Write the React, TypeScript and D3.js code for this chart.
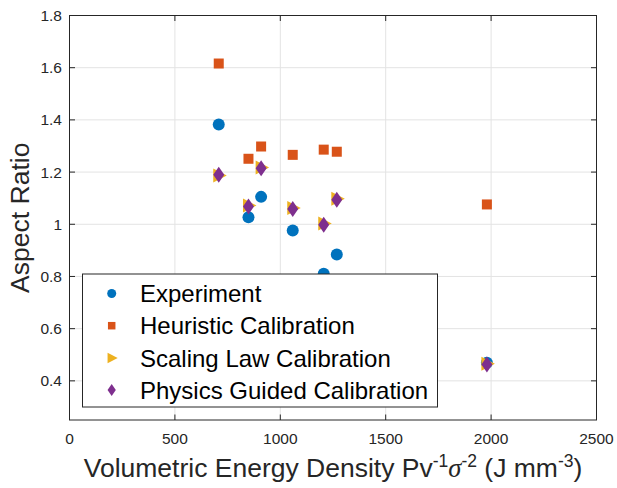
import * as d3 from "d3";

// energy density of each build (J mm^-3)
const energyDensity = [708, 849, 909, 1059, 1206, 1268, 1980];
const experiment = [1.382, 1.027, 1.105, 0.976, 0.81, 0.884, 0.469];
const heuristic = [1.616, 1.251, 1.298, 1.266, 1.286, 1.278, 1.076];
const scalingLaw = [1.187, 1.072, 1.218, 1.062, 1.003, 1.098, 0.466];
const physicsGuided = [1.19, 1.068, 1.215, 1.059, 0.998, 1.094, 0.463];

const xTicks = [0, 500, 1000, 1500, 2000, 2500];
const yTicks = [0.4, 0.6, 0.8, 1, 1.2, 1.4, 1.6, 1.8];

const W = 617;
const H = 488;
const margin = { left: 69.5, right: 20.5, top: 15.5, bottom: 68 };

const x = d3.scaleLinear().domain([0, 2500]).range([margin.left, W - margin.right]);
const y = d3.scaleLinear().domain([0.25, 1.8]).range([H - margin.bottom, margin.top]);

const axisColor = "#262626";
const font = "'Liberation Sans', Arial, Helvetica, sans-serif";

type Kind = "circle" | "square" | "triangle" | "diamond";

const series: { name: string; values: number[]; kind: Kind; color: string }[] = [
  { name: "Experiment", values: experiment, kind: "circle", color: "#0072BD" },
  { name: "Heuristic Calibration", values: heuristic, kind: "square", color: "#D95319" },
  { name: "Scaling Law Calibration", values: scalingLaw, kind: "triangle", color: "#EDB120" },
  { name: "Physics Guided Calibration", values: physicsGuided, kind: "diamond", color: "#7E2F8E" },
];

function Marker({ kind, cx, cy, color, s = 1 }: { kind: Kind; cx: number; cy: number; color: string; s?: number }) {
  if (kind === "circle") return <circle cx={cx} cy={cy} r={6 * s} fill={color} />;
  if (kind === "square")
    return <rect x={cx - 5 * s} y={cy - 5 * s} width={10 * s} height={10 * s} fill={color} />;
  if (kind === "triangle") {
    const p = d3.path();
    p.moveTo(cx - 5.5 * s, cy - 7 * s);
    p.lineTo(cx + 8 * s, cy);
    p.lineTo(cx - 5.5 * s, cy + 7 * s);
    p.closePath();
    return <path d={p.toString()} fill={color} />;
  }
  const p = d3.path();
  p.moveTo(cx, cy - 8 * s);
  p.lineTo(cx + 5.5 * s, cy);
  p.lineTo(cx, cy + 8 * s);
  p.lineTo(cx - 5.5 * s, cy);
  p.closePath();
  return <path d={p.toString()} fill={color} />;
}

export default function App() {
  const [x0, x1] = x.range();
  const [y0, y1] = y.range();
  const tick = 5.5;

  // legend box
  const lg = { x: 82.5, y: 274, w: 355, h: 133 };
  const rowH = 32.2;

  return (
    <svg
      width={W}
      height={H}
      viewBox={`0 0 ${W} ${H}`}
      style={{ position: "absolute", left: 0, top: 0, background: "#fff" }}
      fontFamily={font}
    >
      <rect x={0} y={0} width={W} height={H} fill="#fff" />

      {/* grid */}
      {xTicks.map((t) => (
        <line key={"gx" + t} x1={x(t)} x2={x(t)} y1={y0} y2={y1} stroke="#e3e3e3" strokeWidth={1} />
      ))}
      {yTicks.map((t) => (
        <line key={"gy" + t} x1={x0} x2={x1} y1={y(t)} y2={y(t)} stroke="#e3e3e3" strokeWidth={1} />
      ))}

      {/* points */}
      {series.map((se) =>
        se.values.map((v, i) => (
          <Marker key={se.name + i} kind={se.kind} cx={x(energyDensity[i])} cy={y(v)} color={se.color} />
        ))
      )}

      {/* box and ticks */}
      <rect x={x0} y={y1} width={x1 - x0} height={y0 - y1} fill="none" stroke={axisColor} strokeWidth={1} />
      {xTicks.map((t) => (
        <g key={"tx" + t}>
          <line x1={x(t)} x2={x(t)} y1={y0} y2={y0 - tick} stroke={axisColor} />
          <line x1={x(t)} x2={x(t)} y1={y1} y2={y1 + tick} stroke={axisColor} />
          <text x={x(t)} y={444} textAnchor="middle" fontSize={15.5} fill={axisColor}>
            {t}
          </text>
        </g>
      ))}
      {yTicks.map((t) => (
        <g key={"ty" + t}>
          <line x1={x0} x2={x0 + tick} y1={y(t)} y2={y(t)} stroke={axisColor} />
          <line x1={x1} x2={x1 - tick} y1={y(t)} y2={y(t)} stroke={axisColor} />
          <text x={62} y={y(t)} dy="0.35em" textAnchor="end" fontSize={15.5} fill={axisColor}>
            {String(t)}
          </text>
        </g>
      ))}

      {/* axis labels */}
      <text
        transform={`translate(28.5, ${(y0 + y1) / 2}) rotate(-90)`}
        textAnchor="middle"
        fontSize={26.5}
        fill={axisColor}
      >
        Aspect Ratio
      </text>
      <text x={(x0 + x1) / 2} y={477} textAnchor="middle" fontSize={26.5} fill={axisColor}>
        Volumetric Energy Density Pv
        <tspan dy={-10.5} fontSize={17.5}>-1</tspan>
        <tspan dy={10.5} fontStyle="italic" fontFamily="'Liberation Serif', 'Times New Roman', serif">σ</tspan>
        <tspan dy={-10.5} fontSize={17.5}>-2</tspan>
        <tspan dy={10.5}> (J mm</tspan>
        <tspan dy={-10.5} fontSize={17.5}>-3</tspan>
        <tspan dy={10.5}>)</tspan>
      </text>

      {/* legend */}
      <rect x={lg.x} y={lg.y} width={lg.w} height={lg.h} fill="#fff" stroke={axisColor} strokeWidth={1} />
      {series.map((se, i) => {
        const cy = 293.5 + i * rowH;
        return (
          <g key={"lg" + se.name}>
            <Marker kind={se.kind} cx={111.7} cy={cy} color={se.color} s={0.75} />
            <text x={140} y={cy} dy="0.36em" fontSize={24} fill="#000">
              {se.name}
            </text>
          </g>
        );
      })}
    </svg>
  );
}
